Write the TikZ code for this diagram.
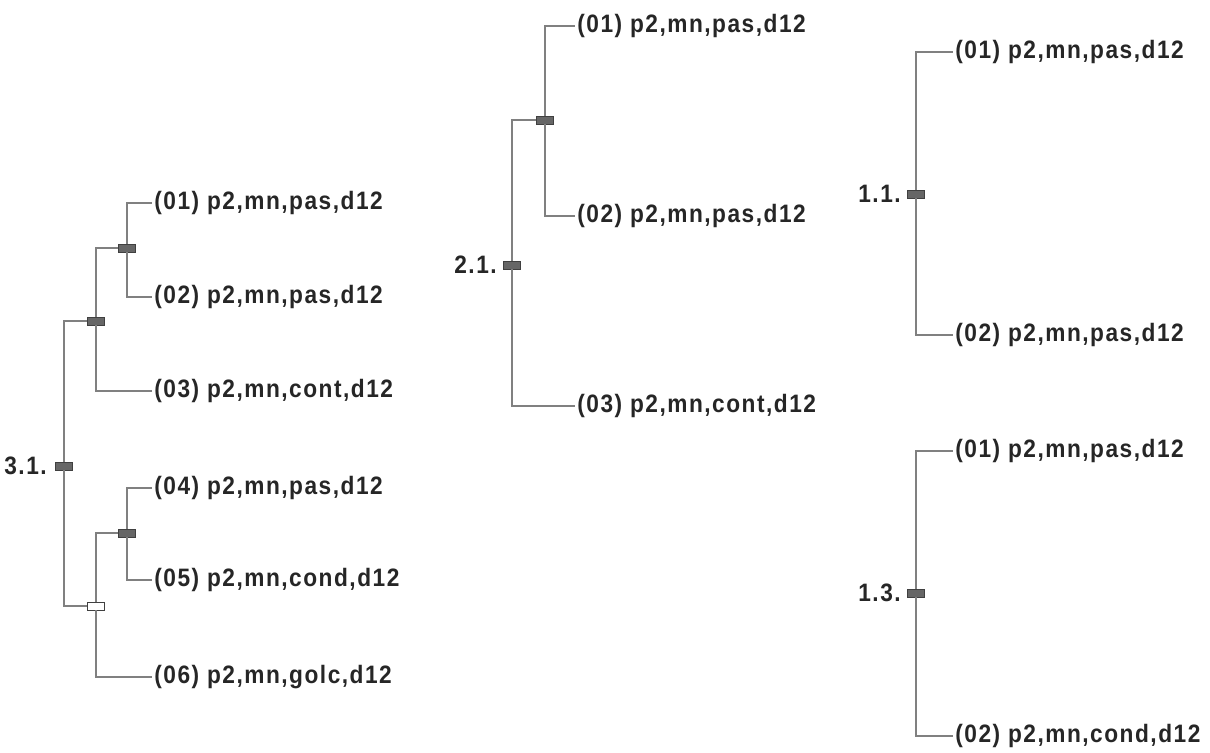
\documentclass[tikz,border=0pt]{standalone}
\usepackage{fontspec}
\setmainfont{Liberation Sans}[FakeStretch=0.9, LetterSpace=6]
\usepackage{tikz}

\tikzset{
  leaf/.style={anchor=west, inner sep=1pt, text=black!85,
    font=\fontsize{12.6}{14}\selectfont\bfseries},
  treelabel/.style={anchor=east, inner sep=0pt, text=black!85,
    font=\fontsize{12.6}{14}\selectfont\bfseries},
  knot/.style={draw=black!75, fill=black!60, line width=0.4pt,
    minimum width=8.5pt, minimum height=4pt, inner sep=0pt},
  openknot/.style={knot, fill=white},
  branch/.style={draw=black!50, line width=0.8pt}
}

\begin{document}
\begin{tikzpicture}[x=0.5pt,y=-0.5pt]
  \useasboundingbox (0,0) rectangle (1210,753);

  \node[knot] (r3) at (64,466) {};
  \node[knot] (a3) at (96,321) {};
  \node[knot] (b3) at (127,248) {};
  \node[knot] (c3) at (127,533) {};
  \node[openknot] (d3) at (96,606) {};
  \node[treelabel] (t3) at ([xshift=-4pt]r3.west) {3.1.};
  \node[leaf] (l31) at (152,203) {(01) p2,mn,pas,d12};
  \node[leaf] (l32) at (152,297) {(02) p2,mn,pas,d12};
  \node[leaf] (l33) at (152,391) {(03) p2,mn,cont,d12};
  \node[leaf] (l34) at (152,488) {(04) p2,mn,pas,d12};
  \node[leaf] (l35) at (152,580) {(05) p2,mn,cond,d12};
  \node[leaf] (l36) at (152,677) {(06) p2,mn,golc,d12};
  \draw[branch] (r3) |- (a3);
  \draw[branch] (r3) |- (d3);
  \draw[branch] (a3) |- (b3);
  \draw[branch] (a3) |- (l33.west);
  \draw[branch] (b3) |- (l31.west);
  \draw[branch] (b3) |- (l32.west);
  \draw[branch] (d3) |- (c3);
  \draw[branch] (d3) |- (l36.west);
  \draw[branch] (c3) |- (l34.west);
  \draw[branch] (c3) |- (l35.west);

  \node[knot] (r2) at (512,265) {};
  \node[knot] (a2) at (545,120) {};
  \node[treelabel] (t2) at ([xshift=-3pt]r2.west) {2.1.};
  \node[leaf] (l21) at (575,26) {(01) p2,mn,pas,d12};
  \node[leaf] (l22) at (575,216) {(02) p2,mn,pas,d12};
  \node[leaf] (l23) at (575,406) {(03) p2,mn,cont,d12};
  \draw[branch] (r2) |- (a2);
  \draw[branch] (r2) |- (l23.west);
  \draw[branch] (a2) |- (l21.west);
  \draw[branch] (a2) |- (l22.west);

  \node[knot] (r11) at (916,194) {};
  \node[treelabel] (t11) at ([xshift=-3pt]r11.west) {1.1.};
  \node[leaf] (l111) at (953,52) {(01) p2,mn,pas,d12};
  \node[leaf] (l112) at (953,335) {(02) p2,mn,pas,d12};
  \draw[branch] (r11) |- (l111.west);
  \draw[branch] (r11) |- (l112.west);

  \node[knot] (r13) at (916,593) {};
  \node[treelabel] (t13) at ([xshift=-3pt]r13.west) {1.3.};
  \node[leaf] (l131) at (953,451) {(01) p2,mn,pas,d12};
  \node[leaf] (l132) at (953,736) {(02) p2,mn,cond,d12};
  \draw[branch] (r13) |- (l131.west);
  \draw[branch] (r13) |- (l132.west);
\end{tikzpicture}
\end{document}
